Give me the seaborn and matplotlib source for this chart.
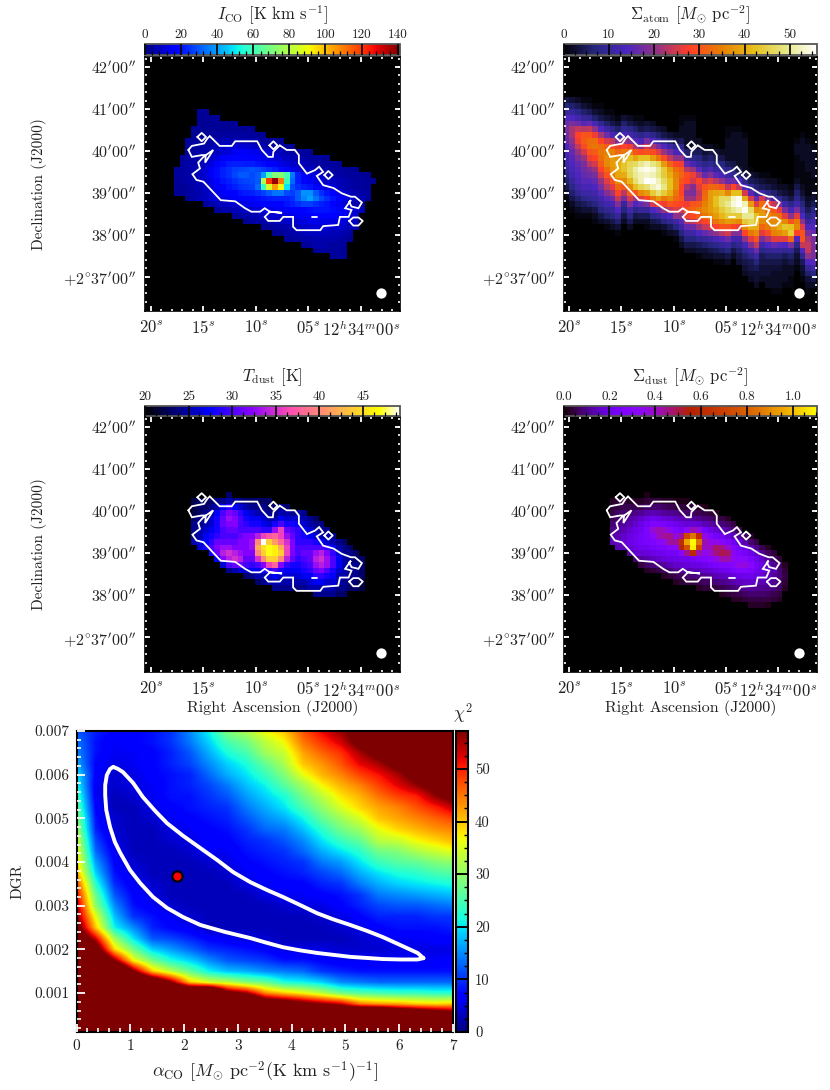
import numpy as np
import seaborn as sns
import matplotlib.pyplot as plt
import matplotlib.ticker as mticker

# map cells: {row or column index: (first index, values)}
ICO_ROWS = {
    9: (9, [3, 3]),
    10: (9, [3, 3, 3, 3]),
    11: (9, [3, 3, 3, 3, 3, 3, 3]),
    12: (8, [3, 3, 3, 3, 3, 3, 3, 3, 3, 3, 3]),
    13: (8, [3, 3, 3, 4, 4, 4, 4, 4, 4, 4, 4, 3, 3]),
    14: (7, [4, 4, 4, 4, 5, 6, 7, 7, 7, 7, 6, 5, 5, 4, 4, 3, 3]),
    15: (7, [4, 4, 4, 5, 6, 8, 9, 10, 11, 11, 10, 9, 8, 6, 5, 4, 4, 3, 3]),
    16: (7, [4, 4, 5, 5, 6, 8, 10, 12, 14, 15, 15, 14, 13, 12, 10, 8, 7, 6, 5, 4, 4, 3]),
    17: (6, [4, 4, 5, 5, 7, 9, 12, 15, 17, 18, 18, 17, 16, 15, 13, 12, 11, 9, 8, 7, 6, 5, 4, 4, 4, 3]),
    18: (6, [4, 5, 5, 7, 9, 12, 16, 19, 21, 22, 22, 21, 21, 20, 19, 17, 15, 13, 11, 9, 8, 7, 6, 5, 4, 4, 4, 3]),
    19: (5, [4, 4, 5, 6, 8, 11, 15, 19, 22, 24, 26, 27, 28, 29, 28, 26, 24, 22, 19, 16, 13, 11, 9, 8, 7, 6, 5, 4, 4, 4, 3, 3]),
    20: (5, [4, 4, 5, 6, 8, 11, 15, 19, 22, 24, 27, 30, 30, 28, 30, 40, 62, 72, 72, 62, 35, 22, 16, 13, 11, 9, 7, 6, 5, 4, 4, 4, 3, 3]),
    21: (5, [3, 4, 5, 6, 8, 10, 13, 17, 20, 22, 24, 26, 27, 28, 30, 80, 120, 138, 110, 60, 32, 22, 18, 15, 13, 11, 9, 8, 7, 6, 5, 4, 4, 3, 3]),
    22: (5, [3, 3, 4, 5, 7, 9, 12, 15, 18, 20, 22, 24, 25, 26, 32, 60, 85, 105, 90, 50, 28, 24, 22, 20, 17, 14, 12, 10, 8, 6, 5, 4, 4, 3]),
    23: (5, [3, 3, 4, 5, 6, 8, 10, 13, 15, 17, 18, 20, 21, 22, 24, 26, 30, 34, 34, 28, 26, 30, 38, 38, 30, 24, 20, 16, 13, 10, 8, 6, 5, 4]),
    24: (7, [3, 5, 7, 8, 10, 12, 13, 14, 15, 16, 17, 18, 19, 20, 21, 22, 22, 22, 24, 30, 36, 40, 34, 28, 24, 20, 16, 13, 10, 8, 6, 4]),
    25: (10, [4, 6, 7, 8, 9, 10, 11, 13, 14, 15, 16, 17, 18, 18, 20, 22, 24, 26, 26, 24, 22, 20, 17, 14, 11, 8, 6, 4]),
    26: (12, [3, 5, 6, 7, 8, 9, 10, 11, 12, 13, 14, 14, 15, 16, 17, 18, 19, 20, 20, 20, 19, 18, 16, 13, 10, 7]),
    27: (15, [3, 4, 5, 6, 7, 8, 9, 10, 11, 12, 13, 14, 15, 15, 16, 16, 17, 17, 16, 15, 12, 9]),
    28: (17, [3, 4, 5, 5, 6, 7, 8, 9, 10, 11, 12, 13, 13, 13, 13, 12, 12, 11, 10, 8]),
    29: (20, [3, 3, 4, 5, 6, 7, 8, 9, 10, 11, 11, 11, 10, 10, 9, 7, 5]),
    30: (22, [3, 3, 4, 5, 6, 7, 8, 8, 8, 8, 7, 7, 6, 4]),
    31: (24, [3, 4, 4, 5, 5, 6, 6, 6, 6, 5, 4, 3]),
    32: (27, [3, 4, 5, 5, 5, 4, 4, 3]),
    33: (29, [3, 4, 4, 4, 4, 3]),
    34: (32, [3, 4, 3]),
}

ATOM_COLS = {
    0: (7, [4, 7, 10, 14, 17, 18, 17, 16, 14, 13, 12, 11, 10, 8, 6, 4, 2, 1]),
    1: (7, [3, 6, 10, 14, 18, 22, 22, 20, 18, 16, 15, 14, 13, 12, 10, 8, 6, 4, 2, 1]),
    2: (7, [2, 5, 8, 12, 17, 24, 28, 27, 24, 21, 18, 16, 15, 14, 13, 11, 9, 6, 4, 2, 1]),
    3: (7, [1, 3, 6, 10, 15, 23, 30, 31, 29, 25, 21, 18, 17, 16, 15, 13, 11, 8, 5, 3, 1]),
    4: (7, [1, 2, 5, 9, 16, 24, 30, 33, 33, 30, 27, 23, 19, 17, 15, 13, 11, 9, 6, 3, 1]),
    5: (8, [1, 3, 6, 13, 20, 27, 33, 34, 31, 28, 25, 21, 18, 16, 14, 12, 10, 7, 4, 2, 1]),
    6: (8, [1, 2, 4, 9, 14, 22, 28, 33, 34, 33, 31, 28, 25, 21, 18, 15, 12, 10, 7, 4, 2]),
    7: (9, [1, 3, 6, 11, 17, 25, 31, 35, 36, 36, 33, 30, 26, 23, 19, 15, 12, 9, 6, 3, 1]),
    8: (9, [1, 2, 4, 8, 13, 24, 30, 35, 38, 38, 37, 34, 30, 26, 22, 17, 13, 10, 7, 4, 2]),
    9: (10, [1, 3, 6, 11, 18, 27, 32, 37, 40, 40, 39, 36, 32, 28, 24, 19, 14, 10, 6, 3, 1]),
    10: (10, [3, 6, 9, 13, 21, 28, 34, 40, 43, 43, 40, 36, 30, 23, 18, 10, 7, 4, 2]),
    11: (10, [2, 4, 8, 12, 19, 27, 34, 42, 46, 47, 46, 41, 36, 31, 25, 19, 12, 8, 5, 2]),
    12: (10, [1, 3, 6, 10, 15, 22, 30, 39, 47, 51, 50, 48, 42, 30, 22, 14, 8, 4, 2]),
    13: (10, [1, 2, 4, 8, 13, 20, 29, 42, 50, 54, 52, 52, 46, 36, 26, 16, 10, 5, 2]),
    14: (11, [3, 5, 10, 18, 25, 30, 42, 52, 55, 53, 56, 48, 38, 28, 18, 10, 5, 2, 1]),
    15: (11, [2, 4, 8, 14, 22, 29, 38, 49, 54, 52, 55, 52, 44, 34, 25, 14, 8, 4, 2]),
    16: (12, [3, 6, 11, 18, 26, 34, 46, 50, 49, 52, 54, 48, 38, 28, 16, 9, 5, 2]),
    17: (12, [2, 4, 8, 14, 21, 29, 38, 44, 44, 47, 49, 44, 34, 27, 20, 12, 7, 3, 1]),
    18: (13, [3, 6, 11, 17, 24, 32, 38, 40, 42, 42, 40, 36, 30, 24, 14, 9, 5, 2]),
    19: (13, [2, 4, 8, 13, 20, 28, 33, 35, 36, 36, 34, 32, 29, 26, 20, 11, 7, 3, 1]),
    20: (10, [1, 1, 2, 2, 5, 8, 13, 20, 27, 31, 32, 30, 28, 28, 30, 28, 25, 20, 15, 11, 7, 4, 2]),
    21: (10, [1, 2, 2, 2, 2, 3, 6, 10, 16, 23, 29, 28, 22, 19, 21, 27, 30, 27, 22, 16, 11, 7, 4, 2]),
    22: (10, [1, 2, 2, 2, 2, 2, 5, 8, 13, 21, 27, 25, 19, 18, 21, 30, 32, 29, 24, 17, 11, 7, 4, 2]),
    23: (14, [2, 3, 5, 7, 10, 15, 22, 28, 26, 24, 25, 31, 34, 31, 26, 21, 14, 9, 5, 3, 1]),
    24: (15, [2, 3, 5, 8, 11, 16, 24, 30, 32, 33, 35, 36, 34, 28, 24, 16, 10, 6, 3, 2]),
    25: (15, [2, 4, 6, 9, 13, 19, 26, 32, 38, 38, 38, 38, 36, 31, 25, 18, 11, 7, 4, 2]),
    26: (15, [1, 3, 5, 7, 10, 15, 23, 32, 39, 42, 42, 40, 38, 34, 28, 20, 13, 8, 5, 3, 1]),
    27: (16, [2, 4, 7, 10, 13, 20, 30, 40, 47, 47, 44, 41, 36, 30, 23, 15, 10, 6, 3, 1]),
    28: (12, [1, 1, 2, 2, 2, 2, 5, 8, 11, 16, 24, 36, 47, 50, 47, 44, 38, 30, 25, 17, 11, 7, 4, 2]),
    29: (12, [1, 2, 2, 2, 2, 2, 4, 6, 9, 17, 28, 42, 53, 54, 50, 44, 37, 28, 19, 12, 7, 4, 2]),
    30: (12, [1, 2, 2, 2, 2, 2, 2, 4, 7, 14, 24, 42, 55, 56, 52, 44, 36, 27, 19, 12, 9, 6, 4, 3]),
    31: (13, [1, 2, 2, 2, 2, 2, 2, 4, 8, 14, 25, 40, 52, 55, 50, 44, 36, 28, 20, 13, 9, 6, 4, 3, 2]),
    32: (19, [1, 3, 5, 9, 15, 25, 38, 47, 50, 46, 40, 34, 26, 19, 12, 8, 5, 4, 3, 2]),
    33: (20, [2, 4, 6, 10, 16, 26, 36, 42, 43, 40, 36, 30, 24, 17, 11, 7, 5, 3, 3, 2]),
    34: (20, [1, 3, 5, 11, 25, 33, 37, 38, 36, 32, 26, 18, 12, 8, 5, 4, 3, 3, 2]),
    35: (20, [1, 2, 4, 8, 18, 28, 33, 36, 36, 34, 29, 22, 14, 9, 6, 4, 3, 3, 2, 2]),
    36: (21, [2, 3, 6, 12, 24, 30, 34, 36, 37, 35, 26, 16, 10, 6, 4, 3, 2, 2, 2, 1]),
    37: (21, [1, 2, 4, 9, 18, 26, 33, 38, 40, 36, 26, 15, 10, 6, 4, 3, 2, 2, 2, 1]),
    38: (22, [2, 3, 6, 11, 18, 26, 36, 43, 38, 26, 14, 9, 5, 3, 2, 2, 2, 1]),
    39: (22, [1, 2, 4, 8, 13, 20, 30, 42, 44, 32, 18, 10, 6, 4, 2, 2, 1, 1]),
    40: (14, [1, 2, 2, 1, 1, 1, 1, 2, 4, 6, 8, 12, 18, 26, 34, 36, 28, 14, 8, 5, 3, 2, 1]),
    41: (13, [1, 2, 2, 2, 2, 1, 1, 1, 1, 2, 3, 5, 7, 10, 14, 20, 26, 30, 30, 24, 14, 9, 5, 3, 2, 1]),
    42: (14, [1, 2, 2, 2, 2, 2, 1, 1, 1, 1, 2, 3, 5, 7, 10, 14, 18, 22, 24, 24, 20, 14, 9, 6, 3, 2, 1]),
    43: (15, [1, 2, 2, 2, 2, 2, 1, 1, 2, 3, 5, 7, 10, 12, 14, 16, 18, 18, 18, 18, 15, 11, 7, 4, 2]),
}

TDUST_COLS = {
    8: (14, [22, 22, 22, 23, 24, 24, 24, 25]),
    9: (14, [23, 23, 23, 24, 24, 25, 25, 26, 26]),
    10: (14, [23, 23, 24, 24, 25, 26, 27, 27, 28]),
    11: (14, [23, 24, 25, 26, 26, 27, 28, 29, 30, 28]),
    12: (14, [24, 25, 27, 28, 28, 28, 29, 31, 32, 31, 27]),
    13: (14, [24, 27, 30, 31, 31, 30, 30, 31, 33, 34, 32, 26]),
    14: (13, [23, 25, 29, 32, 33, 32, 31, 30, 31, 33, 35, 34, 30, 24]),
    15: (14, [24, 27, 31, 32, 32, 31, 30, 31, 32, 34, 35, 31, 25]),
    16: (14, [24, 26, 29, 30, 30, 30, 31, 32, 32, 33, 34, 31, 26]),
    17: (14, [23, 25, 27, 28, 29, 30, 32, 32, 32, 32, 31, 30, 26, 23]),
    18: (14, [23, 24, 26, 27, 28, 30, 32, 33, 33, 32, 31, 29, 27, 24]),
    19: (14, [23, 24, 25, 27, 28, 30, 34, 40, 42, 40, 35, 30, 27, 25, 23]),
    20: (14, [23, 24, 25, 26, 27, 29, 36, 50, 45, 44, 40, 32, 28, 25, 24]),
    21: (14, [23, 23, 24, 25, 26, 29, 37, 44, 47, 47, 44, 36, 29, 26, 25]),
    22: (15, [23, 24, 25, 28, 33, 38, 41, 46, 46, 44, 38, 30, 27, 25, 24]),
    23: (15, [24, 25, 27, 30, 36, 36, 38, 42, 44, 40, 32, 28, 26, 25, 24]),
    24: (15, [23, 25, 26, 28, 31, 33, 35, 36, 36, 34, 29, 27, 26, 25, 24]),
    25: (16, [24, 26, 28, 30, 31, 32, 32, 32, 31, 28, 27, 26, 25, 24]),
    26: (16, [25, 26, 27, 29, 29, 29, 30, 30, 29, 28, 27, 26, 25, 24]),
    27: (16, [24, 25, 26, 27, 28, 29, 30, 31, 30, 29, 28, 27, 25, 24]),
    28: (17, [24, 25, 26, 27, 29, 30, 31, 31, 30, 29, 27, 26, 25]),
    29: (17, [23, 24, 25, 26, 28, 30, 33, 34, 33, 31, 29, 27, 25, 24]),
    30: (18, [24, 24, 25, 27, 30, 34, 35, 34, 32, 29, 27, 25, 24]),
    31: (19, [24, 25, 26, 29, 32, 33, 33, 30, 28, 26, 25, 24]),
    32: (20, [24, 25, 27, 29, 30, 30, 28, 27, 26, 25, 24]),
    33: (21, [24, 25, 26, 27, 27, 26, 25, 25, 24, 23]),
    34: (21, [23, 24, 24, 25, 25, 25, 25, 24, 24, 23]),
    35: (22, [23, 24, 24, 24, 24, 24, 24, 23]),
    36: (23, [23, 23, 24, 24, 24, 23, 23]),
    37: (24, [23, 23, 23, 23, 22, 22]),
}

# hundredths of a solar mass per pc2
DUST_COLS = {
    8: (14, [3, 4, 5, 6, 8, 10, 12, 14]),
    9: (14, [4, 5, 7, 8, 10, 12, 14, 15, 14]),
    10: (14, [4, 6, 8, 10, 12, 14, 16, 17, 15]),
    11: (14, [3, 6, 9, 12, 14, 17, 19, 20, 18, 12]),
    12: (14, [3, 6, 10, 14, 17, 20, 21, 22, 20, 16, 8]),
    13: (14, [3, 6, 11, 16, 20, 22, 24, 24, 22, 18, 12, 5]),
    14: (13, [2, 4, 8, 13, 19, 23, 26, 26, 25, 22, 18, 13, 7, 3]),
    15: (14, [4, 8, 14, 21, 27, 38, 32, 27, 24, 20, 15, 9, 4]),
    16: (14, [4, 8, 13, 20, 27, 42, 40, 30, 25, 21, 16, 10, 5]),
    17: (14, [3, 7, 12, 18, 25, 40, 44, 34, 26, 22, 18, 12, 7, 3]),
    18: (14, [3, 6, 11, 17, 23, 32, 45, 44, 30, 23, 19, 14, 9, 4]),
    19: (14, [2, 5, 10, 15, 21, 27, 36, 44, 32, 24, 20, 16, 11, 6, 3]),
    20: (14, [2, 4, 9, 14, 19, 24, 45, 62, 58, 30, 21, 17, 12, 7, 4]),
    21: (14, [2, 4, 8, 13, 18, 32, 72, 95, 75, 45, 22, 18, 13, 8, 5]),
    22: (15, [4, 7, 12, 18, 42, 85, 110, 108, 60, 24, 19, 14, 9, 5]),
    23: (15, [3, 6, 10, 17, 35, 62, 85, 70, 42, 26, 20, 15, 10, 6, 3]),
    24: (15, [2, 5, 9, 14, 24, 35, 42, 40, 34, 28, 21, 16, 11, 7, 4]),
    25: (16, [4, 8, 13, 20, 28, 35, 40, 38, 30, 23, 17, 12, 8, 4]),
    26: (16, [3, 6, 11, 17, 24, 35, 48, 46, 34, 25, 19, 14, 9, 5]),
    27: (17, [5, 9, 15, 22, 30, 46, 50, 42, 27, 21, 15, 10, 6, 3]),
    28: (17, [3, 7, 12, 18, 27, 38, 48, 42, 28, 22, 16, 11, 7, 4]),
    29: (18, [5, 9, 15, 22, 28, 32, 34, 30, 25, 18, 13, 9, 5, 3]),
    30: (19, [6, 11, 18, 23, 27, 31, 35, 28, 20, 15, 10, 6, 3]),
    31: (20, [7, 13, 19, 24, 30, 37, 28, 21, 16, 11, 7, 4]),
    32: (20, [3, 8, 14, 20, 25, 30, 26, 21, 16, 12, 8, 5, 3]),
    33: (21, [5, 10, 16, 21, 24, 22, 19, 15, 11, 8, 5, 3]),
    34: (22, [6, 11, 16, 19, 19, 17, 14, 11, 8, 5, 3]),
    35: (22, [3, 7, 12, 15, 16, 15, 13, 10, 7, 5, 2]),
    36: (23, [4, 8, 11, 13, 12, 11, 9, 6, 4]),
    37: (24, [4, 7, 9, 9, 8, 7, 5, 3]),
    38: (25, [3, 4, 5, 4, 3]),
}

# white mask outline, in map cells
OUTLINE_X = [7.5, 8.1, 10.2, 10.8, 11.2, 12.9, 15.0, 15.6, 19.4, 20.2, 21.3, 22.1, 22.2, 23.3, 24.5, 25.9,
             26.6, 26.6, 28.0, 29.4, 30.1, 30.8, 29.7, 30.8, 32.6, 34.0, 35.6, 36.3, 37.5, 36.9, 35.7, 35.3,
             35.6, 34.6, 35.7, 35.2, 33.7, 33.4, 30.8, 30.3, 26.2, 25.6, 25.6, 23.9, 23.3, 21.3, 20.7, 21.6,
             23.7, 21.6, 20.7, 19.9, 18.4, 17.3, 15.6, 13.1, 10.1, 8.9, 8.2, 9.5, 9.2, 10.1, 11.8, 10.4, 10.5,
             9.8, 8.1, 7.5]
OUTLINE_Y = [16.1, 15.4, 15.0, 14.1, 13.7, 15.4, 15.4, 14.6, 14.6, 16.1, 17.3, 17.3, 16.4, 15.3, 16.1, 16.1,
             17.0, 18.4, 20.2, 19.6, 19.0, 19.9, 20.6, 22.2, 22.7, 23.6, 24.2, 24.2, 25.2, 26.2, 25.9, 25.1,
             24.8, 26.2, 26.5, 27.7, 27.7, 29.1, 29.3, 30.0, 30.0, 29.4, 27.7, 27.7, 28.4, 28.4, 27.7, 26.8,
             27.0, 26.8, 26.2, 26.8, 26.8, 26.2, 25.0, 24.8, 21.6, 21.3, 20.3, 19.3, 18.3, 17.3, 16.1, 18.3, 17.0,
             17.0, 17.3, 16.1]
ISLANDS = [
    ([9.05, 9.8, 10.55, 9.8, 9.05], [13.85, 13.15, 13.85, 14.6, 13.85]),
    ([21.5, 22.2, 22.9, 22.2, 21.5], [15.3, 14.6, 15.3, 16.0, 15.3]),
    ([31.0, 31.7, 32.45, 31.7, 31.0], [20.45, 19.75, 20.45, 21.15, 20.45]),
    ([35.3, 36.0, 36.9, 37.65, 36.9, 36.0, 35.3], [28.4, 27.8, 27.8, 28.4, 29.2, 29.2, 28.4]),
    ([28.8, 29.7], [27.7, 27.7]),
]
BEAM_X = 40.8
BEAM_Y = 40.8

RA_LABELS = ['$20^{s}$', '$15^{s}$', '$10^{s}$', '$05^{s}$', '$12^{h}34^{m}00^{s}$']
DEC_LABELS = ["$42^{\\prime}00^{\\prime\\prime}$", "$41^{\\prime}00^{\\prime\\prime}$",
              "$40^{\\prime}00^{\\prime\\prime}$", "$39^{\\prime}00^{\\prime\\prime}$",
              "$38^{\\prime}00^{\\prime\\prime}$", "${+}2^{\\circ}37^{\\prime}00^{\\prime\\prime}$"]

# chi2 surface, one list per alpha column, top row first, rows saturate after the end of a list
ALPHA_STEP = 0.35
DGR_STEP = 0.00025
CHI2_COLS = [
    [12, 14, 15, 17, 20, 22, 25, 27, 30, 32, 35, 37, 39, 42, 48, 52, 55, 57, 62, 68],
    [9, 8, 8, 7, 7, 6, 6, 7, 8, 9, 11, 13, 16, 19, 23, 27, 30, 36, 40, 53, 64, 75],
    [7, 6, 6, 5, 4, 4, 3, 3, 4, 4, 5, 6, 7, 8, 9.5, 12, 15, 18, 21, 31, 39, 57, 80],
    [7, 7, 6, 6, 5, 5, 4, 3, 3, 3, 3, 3, 4, 5, 6, 7, 8, 10, 15, 20, 28, 37, 58, 80],
    [8, 8, 7, 7, 7, 6, 6, 5, 4, 3, 3, 3, 3, 3, 4, 5, 6, 8, 9, 12, 19, 28, 40, 70],
    [10, 10, 9, 9, 8, 8, 8, 7, 6, 5, 4, 3, 3, 3, 3, 3, 4, 6, 7, 11, 16, 22, 33, 57, 85],
    [15, 14, 12, 11, 9, 9, 8, 8, 7, 6, 5, 4, 3, 3, 3, 3, 3, 4, 6, 9, 13, 19, 27, 40, 80],
    [21, 19, 17, 15, 13, 11, 10, 9, 8, 7, 7, 6, 4, 3, 3, 3, 3, 3, 3, 7, 10, 15, 21, 35, 85],
    [29, 25, 22, 19, 17, 14, 12, 10, 9, 8, 7, 6, 5, 4, 3, 3, 3, 3, 3, 6, 9, 12, 18, 33, 62],
    [32, 28, 25, 22, 20, 18, 16, 14, 12, 10, 9, 8, 7, 6, 5, 3, 3, 3, 3, 5, 8, 11, 17, 29, 56, 85],
    [37, 33, 31, 27, 24, 21, 19, 17, 15, 13, 10, 9, 8, 7, 6, 5, 3, 3, 3, 4, 7, 10, 15, 27, 44, 70],
    [40, 37, 34, 32, 29, 26, 22, 20, 17, 14, 12, 10, 9, 8, 7, 6, 4, 3, 3, 3, 5, 8, 14, 22, 40, 66],
    [47, 45, 42, 40, 36, 31, 28, 25, 21, 18, 15, 13, 10, 9, 7, 6, 5, 3, 3, 3, 5, 8, 13, 21, 37, 61],
    [52, 49, 46, 43, 41, 37, 33, 30, 27, 23, 20, 17, 14, 11, 9, 7, 5, 4, 3, 3, 5, 7, 10, 19, 33, 57, 85],
    [56, 53, 49, 47, 44, 41, 38, 35, 31, 28, 24, 20, 16, 13, 10, 8, 7, 5, 4, 3, 4, 6, 9, 15, 28, 54, 85],
    [60, 60, 55, 52, 48, 44, 41, 39, 35, 31, 27, 23, 20, 17, 14, 10, 9, 7, 5, 4, 4, 6, 8, 14, 26, 45, 90],
    [60, 60, 60, 55, 51, 48, 45, 42, 40, 36, 33, 28, 24, 20, 17, 14, 11, 9, 7, 5, 4, 6, 8, 13, 25, 43, 90],
    [60, 60, 60, 60, 55, 52, 48, 44, 42, 39, 34, 29, 26, 22, 19, 15, 12, 9, 8, 6, 5, 6, 8, 13, 24, 42, 80],
    [60, 60, 60, 60, 60, 56, 50, 47, 44, 41, 37, 32, 27, 23, 20, 16, 12, 9, 8, 6, 5, 6, 8, 13, 24, 40, 75],
    [60, 60, 60, 60, 60, 60, 56, 50, 46, 43, 39, 34, 29, 25, 21, 17, 13, 10, 8, 7, 5, 6, 8, 13, 23, 39, 70],
    [60, 60, 60, 60, 60, 60, 60, 54, 48, 44, 41, 36, 30, 26, 22, 18, 14, 10, 9, 7, 5, 7, 8, 13, 23, 40, 65],
]
CHI2_ROWS = 29

CONTOUR_ALPHA = [6.45, 6.34, 6.02, 5.70, 5.41, 5.09, 4.77, 4.47, 4.15, 3.84, 3.54, 3.23, 2.91, 2.61, 2.30, 1.98,
                 1.68, 1.46, 1.23, 1.05, 0.86, 0.77, 0.68, 0.62, 0.56, 0.53, 0.53, 0.55, 0.62, 0.71, 0.81, 0.99,
                 1.18, 1.42, 1.68, 1.98, 2.30, 2.76, 3.23, 3.54, 3.84, 4.15, 4.47, 5.09, 5.70, 6.02, 6.34, 6.45]
CONTOUR_DGR = [0.00180, 0.00192, 0.00210, 0.00228, 0.00242, 0.00256, 0.00269, 0.00283, 0.00302, 0.00320, 0.00336,
               0.00354, 0.00377, 0.00405, 0.00432, 0.00460, 0.00489, 0.00517, 0.00549, 0.00581, 0.00606, 0.00613,
               0.00618, 0.00613, 0.00599, 0.00576, 0.00553, 0.00519, 0.00480, 0.00446, 0.00421, 0.00382, 0.00352,
               0.00320, 0.00295, 0.00274, 0.00256, 0.00240, 0.00226, 0.00215, 0.00205, 0.00198, 0.00192, 0.00183,
               0.00178, 0.00177, 0.00177, 0.00180]
BEST_ALPHA = 1.87
BEST_DGR = 0.00369

sns.set_theme(style='white')
plt.rcParams['font.family'] = ['cmr10', 'DejaVu Sans']
plt.rcParams['mathtext.fontset'] = 'cm'
plt.rcParams['axes.unicode_minus'] = False
plt.rcParams['axes.axisbelow'] = False
plt.rcParams['text.color'] = '#222222'
plt.rcParams['axes.labelcolor'] = '#222222'
plt.rcParams['xtick.labelcolor'] = '#222222'
plt.rcParams['ytick.labelcolor'] = '#222222'

W, H = 830, 1090
fig = plt.figure(figsize=(W / 100, H / 100), dpi=100)


def box(left, top, right, bottom):
    return fig.add_axes([left / W, 1 - bottom / H, (right - left) / W, (bottom - top) / H])


def build_grid(runs, by_row=False, scale=1.0):
    grid = np.full((44, 44), np.nan)
    for key, (start, values) in runs.items():
        values = np.array(values, dtype=float) * scale
        if by_row:
            grid[key, start:start + len(values)] = values
        else:
            grid[start:start + len(values), key] = values
    return grid


def draw_map(pos, cpos, grid, cmap, vmax, vmin, major, minor, title, title_y, xlabel=False, ylabel=False, fmt='%g'):
    ax = box(*pos)
    cax = box(*cpos)
    ax.set_facecolor('black')
    sns.heatmap(grid, ax=ax, cbar_ax=cax, cmap=cmap, vmin=vmin, vmax=vmax, xticklabels=False, yticklabels=False,
                cbar_kws={'orientation': 'horizontal'})
    for s in ax.spines.values():
        s.set_visible(True)
        s.set_color('black')
        s.set_linewidth(1.2)

    # sky grid: 5s of RA is 9.08 cells, 1 arcmin of Dec is 7.26 cells
    ax.set_xticks([0.98 + 9.08 * i for i in range(5)])
    ax.set_xticks([0.98 + 1.816 * i for i in range(24)], minor=True)
    ax.set_yticks([1.73 + 7.26 * i for i in range(6)])
    ax.set_yticks([0.28 + 1.452 * i for i in range(30)], minor=True)
    ax.set_xticklabels(RA_LABELS, fontsize=12)
    ax.set_yticklabels(DEC_LABELS, fontsize=11.5, rotation=0)
    ax.tick_params(which='major', direction='in', color='white', length=3.8, width=1.3, top=True, bottom=True,
                   left=True, right=True, pad=6)
    ax.tick_params(which='minor', direction='in', color='white', length=1.4, width=1.2, top=True, bottom=True,
                   left=True, right=True)
    ax.plot(OUTLINE_X, OUTLINE_Y, color='white', lw=1.3, solid_joinstyle='miter')
    for xs, ys in ISLANDS:
        ax.plot(xs, ys, color='white', lw=1.3)
    ax.plot([BEAM_X], [BEAM_Y], 'o', color='white', ms=7.4, mew=0)
    if xlabel:
        ax.set_xlabel('Right Ascension (J2000)', fontsize=11.5, labelpad=0)
    if ylabel:
        ax.set_ylabel('Declination (J2000)', fontsize=11)
        ax.yaxis.set_label_coords(-0.385, 0.5)

    cb = ax.collections[0].colorbar
    cb.outline.set_visible(True)
    cb.outline.set_edgecolor('#555555')
    cb.outline.set_linewidth(1.3)
    cb.set_ticks(major)
    cb.ax.xaxis.set_ticks_position('top')
    cb.ax.set_xticklabels([fmt % v for v in major], fontsize=9.5)
    cb.ax.xaxis.set_minor_locator(mticker.MultipleLocator(minor))
    cb.ax.tick_params(which='major', direction='in', color='black', length=8, width=1.2, top=True, bottom=False,
                      labeltop=True, labelbottom=False, pad=2.5)
    cb.ax.tick_params(which='minor', direction='in', color='black', length=2.8, width=0.9, top=False, bottom=True)
    cb.ax.xaxis.set_label_position('top')
    cb.ax.set_xlabel(title, fontsize=12, va='center')
    cb.ax.xaxis.set_label_coords(0.5, (cpos[3] - title_y) / (cpos[3] - cpos[1]))
    return ax


TOP = (57, 311, 44, 55)
BOT = (417, 672, 406, 416)
L = (145, 399.5)
R = (563.5, 817)

draw_map((L[0], TOP[0], L[1], TOP[1]), (L[0], TOP[2], L[1], TOP[3]), build_grid(ICO_ROWS, by_row=True), 'jet',
         141, 0, [0, 20, 40, 60, 80, 100, 120, 140], 4,
         '$I_{\\mathrm{CO}}$ [K km s$^{-1}$]', 15, ylabel=True)
draw_map((R[0], TOP[0], R[1], TOP[1]), (R[0], TOP[2], R[1], TOP[3]), build_grid(ATOM_COLS), 'CMRmap',
         56, 0, [0, 10, 20, 30, 40, 50], 2.5,
         '$\\Sigma_{\\mathrm{atom}}$ [$M_{\\odot}$ pc$^{-2}$]', 15)
draw_map((L[0], BOT[0], L[1], BOT[1]), (L[0], BOT[2], L[1], BOT[3]), build_grid(TDUST_COLS), 'gnuplot2',
         49.2, 20, [20, 25, 30, 35, 40, 45], 1.25,
         '$T_{\\mathrm{dust}}$ [K]', 377, xlabel=True, ylabel=True)
draw_map((R[0], BOT[0], R[1], BOT[1]), (R[0], BOT[2], R[1], BOT[3]), build_grid(DUST_COLS, scale=0.01), 'gnuplot',
         1.105, 0, [0.0, 0.2, 0.4, 0.6, 0.8, 1.0], 0.05,
         '$\\Sigma_{\\mathrm{dust}}$ [$M_{\\odot}$ pc$^{-2}$]', 377, xlabel=True, fmt='%.1f')

# chi2 panel
chi2 = np.full((CHI2_ROWS, len(CHI2_COLS)), 90.0)
for i, col in enumerate(CHI2_COLS):
    chi2[:len(col), i] = col

ax5 = box(76.7, 731, 453, 1032)
cax5 = box(456, 731, 468, 1032)
top_dgr = 0.007 + DGR_STEP / 2
bot_dgr = 0.007 - (CHI2_ROWS - 1) * DGR_STEP - DGR_STEP / 2
im = ax5.imshow(chi2, cmap='jet', vmin=0, vmax=57.2, aspect='auto', interpolation='bilinear',
                interpolation_stage='data',
                extent=(-ALPHA_STEP / 2, 7 + ALPHA_STEP / 2, bot_dgr, top_dgr))
ax5.plot(CONTOUR_ALPHA, CONTOUR_DGR, color='white', lw=2.8, solid_joinstyle='round')
ax5.plot([BEST_ALPHA], [BEST_DGR], 'o', color='red', mec='black', ms=7.4, mew=1.6)
ax5.set_xlim(0, 7)
ax5.set_ylim(0.00011, 0.007)
ax5.xaxis.set_major_locator(mticker.MultipleLocator(1))
ax5.xaxis.set_minor_locator(mticker.MultipleLocator(0.2))
ax5.yaxis.set_major_locator(mticker.MultipleLocator(0.001))
ax5.yaxis.set_minor_locator(mticker.MultipleLocator(0.0002))
ax5.yaxis.set_major_formatter(mticker.FormatStrFormatter('%.3f'))
ax5.tick_params(which='major', direction='in', color='white', length=5.8, width=1.3, labelsize=11, pad=5)
ax5.tick_params(which='minor', direction='in', color='white', length=2.9, width=1.2)
ax5.tick_params(which='both', top=False, right=False, bottom=True, left=True)
for s in ax5.spines.values():
    s.set_visible(True)
    s.set_color('black')
    s.set_linewidth(1.5)
ax5.set_xlabel('$\\alpha_{\\mathrm{CO}}$ [$M_{\\odot}$ pc$^{-2}$(K km s$^{-1}$)$^{-1}$]', fontsize=13, labelpad=5)
ax5.set_ylabel('DGR', fontsize=11)
ax5.yaxis.set_label_coords(-0.14, 0.5)

cb5 = fig.colorbar(im, cax=cax5)
cb5.set_ticks([0, 10, 20, 30, 40, 50])
cb5.ax.yaxis.set_minor_locator(mticker.MultipleLocator(2.5))
cb5.ax.tick_params(which='major', direction='in', color='black', length=8.6, width=1.2, labelsize=10.5, pad=5,
                   left=True, right=True)
cb5.ax.tick_params(which='minor', direction='in', color='black', length=3, width=1.0, left=False, right=True)
cb5.outline.set_edgecolor('black')
cb5.outline.set_linewidth(1.5)
cax5.set_title('$\\chi^2$', fontsize=12.5, pad=8, x=0.6)

fig.savefig('out.png', dpi=100, facecolor='white')
